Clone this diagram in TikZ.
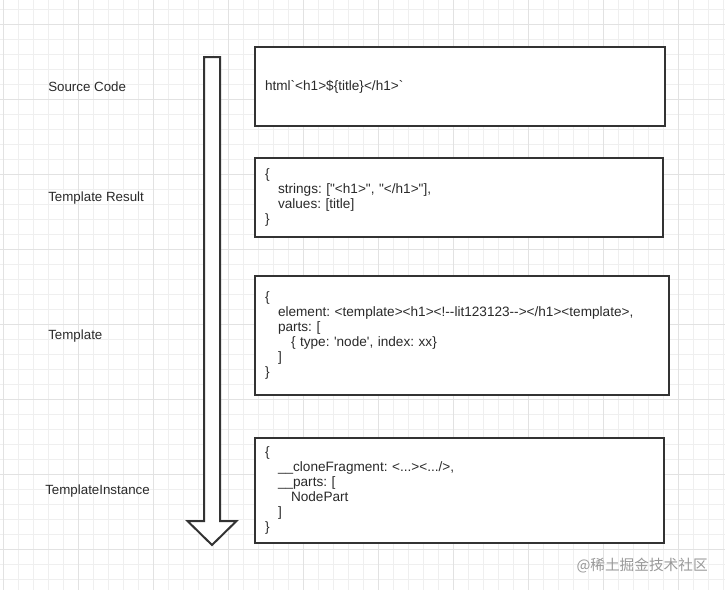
\documentclass[tikz,border=0pt]{standalone}
\usepackage{fontspec}
\setmainfont{Liberation Sans}[Ligatures=TeXOff]
\newfontfamily\cjk{Noto Sans CJK SC}
\usetikzlibrary{positioning}

\definecolor{gridminor}{HTML}{EFEFEF}
\definecolor{gridmajor}{HTML}{E2E2E2}
\definecolor{linecol}{HTML}{333333}
\definecolor{textcol}{HTML}{2A2A2A}

\newcommand{\indA}{\hspace*{9.75pt}}
\newcommand{\codefont}{\fontsize{10.2}{11.25}\selectfont\frenchspacing}

\tikzset{
  codebox/.style={draw=linecol, line width=1.5pt, fill=white, inner xsep=7.5pt,
    inner ysep=0pt, align=left, font=\codefont, text=textcol},
  stage/.style={anchor=west, inner sep=0pt, font=\fontsize{10}{12}\selectfont, text=textcol},
}

\begin{document}
\begin{tikzpicture}[x=0.75pt, y=-0.75pt]
\useasboundingbox (0,0) rectangle (725,590);
\fill[white] (0,0) rectangle (725,590);

% grid
\foreach \gx in {3.3,18.3,...,725} {
  \draw[gridminor, line width=0.6pt] (\gx,0) -- (\gx,590);
}
\foreach \gy in {9.3,24.3,...,590} {
  \draw[gridminor, line width=0.6pt] (0,\gy) -- (725,\gy);
}
\foreach \gx in {3.3,78.3,...,725} {
  \draw[gridmajor, line width=0.6pt] (\gx,0) -- (\gx,590);
}
\foreach \gy in {24.3,99.3,...,590} {
  \draw[gridmajor, line width=0.6pt] (0,\gy) -- (725,\gy);
}

% big arrow
\draw[linecol, line width=1.5pt, fill=white, line join=miter]
  (204,57) -- (220,57) -- (220,521) -- (236.5,521) -- (212,545)
  -- (187.5,521) -- (204,521) -- cycle;

% stages
\node[stage] (src) at (48,87) {Source Code};
\node[stage] (res) at (48,198) {Template Result};
\node[stage] (tpl) at (48,336) {Template};
\node[stage] (inst) at (45,491) {TemplateInstance};

% boxes
\node[codebox, text width=292.5pt, minimum height=59.25pt] (srcbox) at (460,86.5)
  {html`<h1>\$\{title\}</h1>`};

\node[codebox, text width=291pt, minimum height=59.25pt] (resbox) at (459,197.5)
  {\{\\
   \indA strings: ["<h1>", "</h1>"],\\
   \indA values: [title]\\
   \}};

\node[codebox, text width=295.5pt, minimum height=89.25pt] (tplbox) at (462,335.5)
  {\{\\
   \indA element: <template><h1><!--lit123123--></h1><template>,\\
   \indA parts: [\\
   \indA\indA \{ type: 'node', index: xx\}\\
   \indA ]\\
   \}};

\node[codebox, text width=291.75pt, minimum height=78.75pt] (instbox) at (459.5,490.5)
  {\{\\
   \indA \_\_cloneFragment: <...><.../>,\\
   \indA \_\_parts: [\\
   \indA\indA NodePart\\
   \indA ]\\
   \}};

% watermark
\node[anchor=east, inner sep=0pt, text=black!40, font=\cjk\fontsize{11}{13}\selectfont]
  (mark) at (708,566) {@稀土掘金技术社区};
\end{tikzpicture}
\end{document}
